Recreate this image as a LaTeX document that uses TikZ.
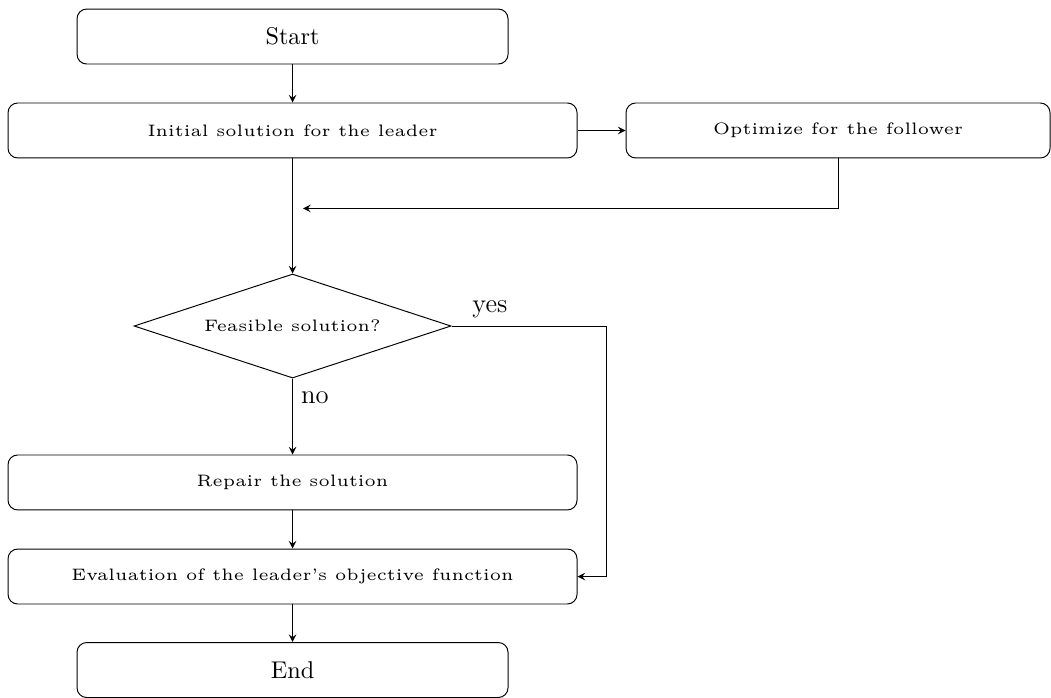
\documentclass[tikz,border=0pt]{standalone}
\usepackage{tikz}
\usepackage{graphicx}
\usetikzlibrary{shapes.geometric}

\newcommand{\smalltxt}[1]{\scalebox{1.37}{\tiny #1}}

\begin{document}
\begin{tikzpicture}[>=stealth,
  block/.style = {rectangle, draw, rounded corners = 4pt, minimum height = 0.798cm},
  decision/.style = {diamond, draw, aspect = 3, inner sep = 0pt, minimum width = 4.601cm, minimum height = 1.51cm},
  answer/.style = {font = \fontsize{11}{13}\selectfont}]
  \useasboundingbox (0,0) rectangle (15.255,-10.131);
  \node (start)  at (4.246,-0.530) [block, minimum width = 6.256cm] {Start};
  \node (init)   at (4.246,-1.894) [block, minimum width = 8.259cm] {\smalltxt{Initial solution for the leader}};
    \node (opt)  at (12.164,-1.894) [block, minimum width = 6.154cm] {\smalltxt{Optimize for the follower}};
  \node (feas)   at (4.246,-4.732) [decision] {\smalltxt{Feasible solution?}};
    \node (repair) at (4.246,-7.003) [block, minimum width = 8.259cm] {\smalltxt{Repair the solution}};
  \node (eval)   at (4.246,-8.368) [block, minimum width = 8.259cm] {\smalltxt{Evaluation of the leader's objective function}};
  \node (end)    at (4.246,-9.725) [block, minimum width = 6.256cm] {End};
  \coordinate (merge) at (4.398,-3.026);
  \coordinate (yes)   at (8.796,-4.732);
  \draw [->] (start) -- (init);
  \draw [->] (init) -- (opt);
  \draw [->] (opt) |- (merge);
  \draw [->] (init) -- (feas);
    \draw [->] (feas) -- node [answer, pos = 0, below right, yshift = -2pt] {no} (repair);
  \draw [->] (feas) -- node [answer, pos = 0.08, above right] {yes} (yes) |- (eval);
  \draw [->] (repair) -- (eval);
    \draw [->] (eval) -- (end);
\end{tikzpicture}
\end{document}
